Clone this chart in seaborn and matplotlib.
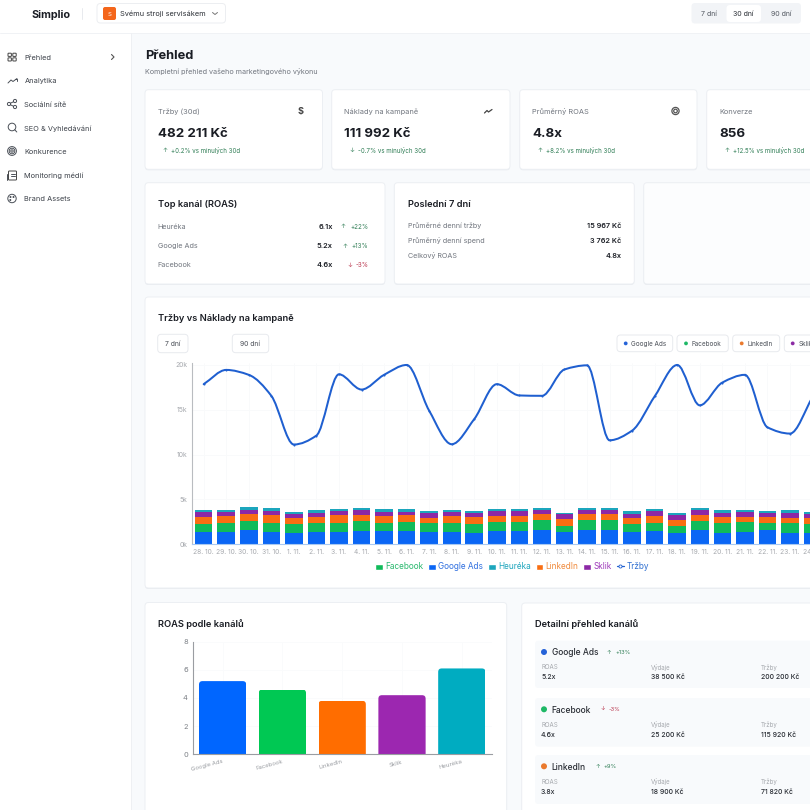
import numpy as np
import matplotlib
matplotlib.use("Agg")
import matplotlib.pyplot as plt
from matplotlib.patches import FancyBboxPatch, Rectangle, Circle, Patch, PathPatch
from matplotlib.path import Path
from matplotlib.lines import Line2D
from matplotlib.transforms import IdentityTransform
import seaborn as sns

# ---- data ----
days = ["28. 10.", "29. 10.", "30. 10.", "31. 10.", "1. 11.", "2. 11.", "3. 11.", "4. 11.", "5. 11.", "6. 11.",
        "7. 11.", "8. 11.", "9. 11.", "10. 11.", "11. 11.", "12. 11.", "13. 11.", "14. 11.", "15. 11.", "16. 11.",
        "17. 11.", "18. 11.", "19. 11.", "20. 11.", "21. 11.", "22. 11.", "23. 11.", "24. 11."]
revenue = [17860, 19450, 18900, 16560, 11130, 12130, 18960, 17260, 18900, 20000, 14900, 11160, 13970, 17860,
           16600, 16560, 19500, 19960, 11600, 12680, 16500, 20000, 15500, 18040, 18900, 13050, 12350, 16400]
google = [1417, 1417, 1604, 1343, 1306, 1380, 1343, 1492, 1492, 1529, 1380, 1417, 1306, 1529, 1492, 1604, 1343, 1604,
          1567, 1417, 1492, 1306, 1604, 1306, 1380, 1604, 1306, 1231]
facebook = [895, 1007, 1044, 1082, 1007, 970, 1082, 1082, 933, 933, 970, 1007, 1007, 933, 970, 1119, 746, 1082,
            1156, 858, 933, 783, 1007, 1044, 1082, 783, 1044, 1044]
linkedin = [746, 746, 746, 821, 634, 709, 858, 746, 783, 783, 634, 746, 709, 709, 746, 672, 709, 746,
            634, 709, 746, 672, 709, 672, 597, 634, 597, 672]
sklik = [522, 448, 448, 522, 448, 485, 448, 560, 448, 410, 522, 448, 448, 522, 485, 448, 560, 448,
         485, 448, 522, 485, 522, 522, 522, 448, 522, 448]
heureka = [224, 261, 298, 261, 224, 336, 224, 149, 261, 298, 261, 224, 298, 224, 261, 224, 149, 224,
           187, 298, 224, 224, 224, 336, 298, 261, 336, 224]
roas_channels = ["Google Ads", "Facebook", "LinkedIn", "Sklik", "Heuréka"]
roas_values = [5.2, 4.6, 3.8, 4.2, 6.1]
nav_items = ["Přehled", "Analytika", "Sociální sítě", "SEO & Vyhledávání", "Konkurence", "Monitoring médií", "Brand Assets"]

BLUE, GREEN, ORANGE, PURPLE, TEAL = "#0a66f5", "#10bb5a", "#f96e12", "#8c28a6", "#1ca6bd"
R_COLORS = ["#0066ff", "#00c853", "#ff6d00", "#9c27b0", "#00acc1"]
LINE = "#1f5fd0"
INK, GREY, LGREY = "#1a1d24", "#71767f", "#a6a9ae"
UP, DOWN = "#2f7d55", "#b8324a"

sns.set_theme(style="white")
plt.rcParams["font.family"] = ["Inter", "DejaVu Sans"]
fig = plt.figure(figsize=(8.1, 8.1), dpi=100, facecolor="white")
bg = fig.add_axes([0, 0, 1, 1], zorder=0)
bg.set_xlim(0, 810); bg.set_ylim(810, 0); bg.axis("off")


def T(x, y, s, px=7.5, c=INK, w="normal", ha="left", **k):
    return bg.text(x, y + 0.1 * px, s, fontsize=px * 0.72, color=c, fontweight=w, ha=ha, va="center", **k)


def box(x0, y0, x1, y1, fc="white", ec="#eceff3", r=3.5, lw=0.7, z=1):
    p = FancyBboxPatch((x0, y0), x1 - x0, y1 - y0, boxstyle=f"round,pad=0,rounding_size={r}",
                       fc=fc, ec=ec, lw=lw, zorder=z)
    bg.add_patch(p)
    return p


def card(x0, y0, x1, y1, fc="white"):
    box(x0, y0 + 1, x1, y1 + 1, fc="#e9ecf0", ec="none", z=0.9)
    box(x0, y0, x1, y1, fc=fc)


def poly(xs, ys, c="#4a4f57", lw=0.7):
    bg.plot(xs, ys, color=c, lw=lw, zorder=3, solid_capstyle="round")


def ring(x, y, r, c="#4a4f57", lw=0.7, fill="none"):
    bg.add_patch(Circle((x, y), r, fc=fill, ec=c, lw=lw, zorder=3))


# ---- page chrome ----
bg.add_patch(Rectangle((131, 33), 700, 800, fc="#f8fafc", ec="none", zorder=0.1))
poly([0, 810], [33, 33], "#f0f2f5", 0.7)
poly([131, 131], [33, 810], "#eef0f3", 0.7)
T(31, 13.5, "Simplio", 10.8, w="bold")
poly([82, 82], [8, 19], "#e8eaee", 0.7)
box(97, 3.5, 225.5, 23, ec="#eceef1")
box(103, 7, 116, 20, fc="#f4661b", ec="none", r=2)
T(109.5, 13.5, "S", 6, "white", ha="center")
T(120.5, 13.5, "Svému stroji servisákem", 7.4, "#2a2e35")
poly([212.5, 215, 217.5], [12.5, 14.5, 12.5], "#777")
box(691.5, 3, 801, 23.5, fc="#f2f4f7", ec="none")
box(726.5, 5, 761, 22, ec="none")
T(709, 13.2, "7 dní", 7, "#555a63", ha="center")
T(743.7, 13.2, "30 dní", 7, "#2a2e35", ha="center")
T(781, 13.2, "90 dní", 7, "#555a63", ha="center")

nav_y = [57, 80.3, 104, 127.7, 151, 175, 198.5]
for s, y in zip(nav_items, nav_y):
    T(24.5, y, s, 7.4, "#3c4149")
poly([111.5, 114, 111.5], [54.5, 57, 59.5], "#555", 0.8)
for dx, dy in [(-4, -3.8), (0.8, -3.8), (-4, 0.8), (0.8, 0.8)]:
    box(8 + 4 + dx, 57 + dy, 8 + 4 + dx + 3.4, 57 + dy + 3.2, fc="none", ec="#444", r=0.6, z=3)
poly([8, 11, 13, 17], [83, 80, 81.5, 78.5])
poly([14.5, 17, 17], [78.5, 78.5, 80.5])
for (a, b) in [(9, 104), (15, 101), (15, 107)]:
    ring(a, b, 1.6)
poly([10.5, 13.6], [103.2, 101.7]); poly([10.5, 13.6], [104.8, 106.3])
ring(12, 127, 3.8); poly([14.8, 16.8], [129.8, 132])
ring(12, 151, 4.4); ring(12, 151, 2.8); ring(12, 151, 1.2)
box(8.5, 171, 16.5, 180, fc="none", ec="#444", r=0.8, z=3)
poly([10.5, 14.5], [173.5, 173.5]); poly([10.5, 14.5], [176, 176]); poly([7.2, 7.2], [174, 179.5])
ring(12, 198.5, 4.2); ring(10.5, 197, 0.5); ring(13.5, 197, 0.5); ring(10.3, 200, 0.5)

T(145, 54.5, "Přehled", 12.9, w="bold")
T(145, 71, "Kompletní přehled vašeho marketingového výkonu", 7.2, GREY)

# ---- KPI cards ----
kpis = [(145, 322.5, "Tržby (30d)", "482 211 Kč", "↑", "+0.2% vs minulých 30d"),
        (331.7, 510, "Náklady na kampaně", "111 992 Kč", "↓", "-0.7% vs minulých 30d"),
        (519.7, 697, "Průměrný ROAS", "4.8x", "↑", "+8.2% vs minulých 30d"),
        (706.7, 900, "Konverze", "856", "↑", "+12.5% vs minulých 30d")]
for x0, x1, lab, val, arr, d in kpis:
    card(x0, 89.7, x1, 169.3)
    T(x0 + 12.8, 111, lab, 7.4, GREY)
    T(x0 + 12.8, 132.5, val, 13.3, w="bold")
    T(x0 + 20, 149.5, arr, 6, UP, ha="center")
    T(x0 + 26, 149.5, d, 6.15, UP)
T(301, 111, "$", 9, "#444", w="bold", ha="center")
poly([484.5, 487, 488.5, 492], [113, 110.5, 112, 109.5], "#444", 0.9)
ring(675.5, 111, 3.6, "#555", 0.9); ring(675.5, 111, 1.8, "#555", 0.9)

# ---- second row ----
card(145, 182.7, 385, 284)
T(157.7, 203.5, "Top kanál (ROAS)", 9.3, w="semibold")
top_rows = [(226, "Heuréka", "6.1x", "+22%", 343, 350.7, UP, "↑"),
            (245.5, "Google Ads", "5.2x", "+13%", 345, 351.7, UP, "↑"),
            (264.7, "Facebook", "4.6x", "-3%", 349.8, 356, DOWN, "↓")]
for y, n, v, d, ax_, tx, c, a in top_rows:
    T(157.7, y, n, 7.2, GREY)
    T(332.7, y, v, 7.4, w="semibold", ha="right")
    T(ax_, y, a, 6, c, ha="center")
    T(tx, y, d, 6.2, c)
card(394.3, 182.7, 634.3, 284)
T(407.7, 203.5, "Poslední 7 dní", 9.3, w="semibold")
for y, n, v in [(225, "Průměrné denní tržby", "15 967 Kč"), (240, "Průměrný denní spend", "3 762 Kč"), (255, "Celkový ROAS", "4.8x")]:
    T(407.7, y, n, 7.2, GREY)
    T(621.3, y, v, 7.3, w="semibold", ha="right")
card(643.7, 182.7, 900, 284, fc="#fcfdfe")

# ---- main chart card ----
card(145, 297, 900, 588)
T(157.7, 318, "Tržby vs Náklady na kampaně", 9.3, w="semibold")
for x0, x1, s in [(157.7, 188, "7 dní"), (232.3, 268.7, "90 dní")]:
    box(x0, 334.3, x1, 352.7, ec="#e8eaee")
    T((x0 + x1) / 2, 343.5, s, 6.8, "#4a4f57", ha="center")
for x0, x1, dot, s, c in [(617, 672.7, 625.7, "Google Ads", "#2563d8"), (677, 728.3, 686, "Facebook", "#1eb866"),
                          (732.7, 779.7, 741.7, "LinkedIn", "#ea7a2e"), (784.3, 850, 792.7, "Sklik", "#8c2aa4")]:
    box(x0, 335, x1, 351.7, ec="#e8eaee")
    bg.add_patch(Circle((dot, 343.4), 1.9, fc=c, ec="none", zorder=3))
    T(dot + 5.6, 343.4, s, 6.4, "#4a4f57")


def px_axes(x0, y0, x1, y1):
    a = fig.add_axes([x0 / 810, 1 - y1 / 810, (x1 - x0) / 810, (y1 - y0) / 810], zorder=2)
    a.patch.set_alpha(0)
    return a


ax = px_axes(192.4, 363, 868.9, 544.3)
n = len(days)
bottom = np.zeros(n)
for vals, col in zip([google, facebook, linkedin, sklik, heureka], [BLUE, GREEN, ORANGE, PURPLE, TEAL]):
    sns.barplot(x=days, y=vals, bottom=bottom, color=col, saturation=1, width=0.78, ax=ax, zorder=2, linewidth=0)
    bottom = bottom + np.array(vals)

# smooth revenue curve through the read values
xs = np.arange(n, dtype=float)
ys = np.array(revenue, dtype=float)
d = np.diff(ys)
m = np.zeros(n)
for i in range(1, n - 1):
    if d[i - 1] * d[i] > 0:
        m[i] = 2 * d[i - 1] * d[i] / (d[i - 1] + d[i])
m[0], m[-1] = d[0], d[-1]
verts = [(xs[0], ys[0])]
codes = [Path.MOVETO]
for i in range(n - 1):
    verts += [(xs[i] + 1 / 3, ys[i] + m[i] / 3), (xs[i + 1] - 1 / 3, ys[i + 1] - m[i + 1] / 3), (xs[i + 1], ys[i + 1])]
    codes += [Path.CURVE4] * 3
ax.add_patch(PathPatch(Path(verts, codes), fc="none", ec=LINE, lw=1.45, zorder=4, capstyle="round"))
sns.lineplot(x=xs, y=ys, linestyle="", marker="o", markersize=1.5, markeredgewidth=0, color=LINE, ax=ax, zorder=5,
             errorbar=None)

ax.set_xlim(-0.5, 29.5)
ax.set_ylim(0, 20220)
ax.set_xticks(range(n)); ax.set_xticklabels(days)
ax.set_yticks([0, 5000, 10000, 15000, 20000]); ax.set_yticklabels(["0k", "5k", "10k", "15k", "20k"])
ax.set_xlabel(""); ax.set_ylabel("")
ax.grid(True, color="#f9fafb", lw=0.6, zorder=0)
ax.set_axisbelow(True)
for sp in ["top", "right"]:
    ax.spines[sp].set_visible(False)
ax.spines["left"].set_color("#b9bcc0"); ax.spines["left"].set_linewidth(0.8)
ax.spines["bottom"].set_color("#a9c9f2"); ax.spines["bottom"].set_linewidth(0.8)
ax.tick_params(axis="y", length=2.5, width=0.6, color="#b9bcc0", labelsize=4.9, labelcolor=LGREY, pad=1)
ax.tick_params(axis="x", length=0, labelsize=4.8, labelcolor=LGREY, pad=3.5)

handles = [Patch(fc=GREEN, label="Facebook"), Patch(fc=BLUE, label="Google Ads"), Patch(fc=TEAL, label="Heuréka"),
           Patch(fc=ORANGE, label="LinkedIn"), Patch(fc=PURPLE, label="Sklik"),
           Line2D([], [], color=LINE, lw=0.9, marker="o", ms=2.2, mfc="white", mew=0.6, label="Tržby")]
leg = ax.legend(handles=handles, ncol=6, loc="center", bbox_to_anchor=(512 / 810, 1 - 566.9 / 810),
                bbox_transform=fig.transFigure, frameon=False, fontsize=5.9, handlelength=0.95, handleheight=0.75,
                handletextpad=0.25, columnspacing=0.62, borderpad=0, borderaxespad=0)
for t, c in zip(leg.get_texts(), ["#28b86d", "#2f6fe0", "#1ea5bd", "#f08a3c", "#a03cbb", "#2f6fd0"]):
    t.set_color(c)

# ---- ROAS card ----
card(145, 602.5, 506.7, 900)
T(157.7, 622.7, "ROAS podle kanálů", 9.3, w="semibold")
ax2 = px_axes(192.7, 641.7, 491.7, 754.3)
sns.barplot(x=roas_channels, y=roas_values, hue=roas_channels, palette=R_COLORS, saturation=1, width=0.79, ax=ax2,
            legend=False, linewidth=0, zorder=2)
ax2.set_ylim(0, 8)
ax2.set_xlim(-0.5, 4.5)
ax2.set_xlabel(""); ax2.set_ylabel("")
ax2.set_yticks([0, 2, 4, 6, 8])
ax2.set_xticks(range(5)); ax2.set_xticklabels(roas_channels)
ax2.grid(True, color="#fafbfc", lw=0.6)
ax2.set_axisbelow(True)
for sp in ["top", "right"]:
    ax2.spines[sp].set_visible(False)
for sp in ["left", "bottom"]:
    ax2.spines[sp].set_color("#9a9da2"); ax2.spines[sp].set_linewidth(0.8)
ax2.tick_params(axis="y", length=2.5, width=0.6, color="#9a9da2", labelsize=5.4, labelcolor="#7d8187", pad=1)
ax2.tick_params(axis="x", length=2, width=0.6, color="#9a9da2", labelsize=4.3, labelcolor="#9a9da2", pad=1.5)
for lab in ax2.get_xticklabels():
    lab.set_rotation(15); lab.set_ha("right"); lab.set_rotation_mode("anchor")
fig.canvas.draw()
for bar in ax2.patches:
    (a0, b0), (a1, b1) = ax2.transData.transform([(bar.get_x(), 0), (bar.get_x() + bar.get_width(), bar.get_height())])
    clip = FancyBboxPatch((a0, b0 - 8), a1 - a0, b1 - b0 + 8, boxstyle="round,pad=0,rounding_size=3.5",
                          transform=IdentityTransform())
    bar.set_clip_path(clip)

# ---- detail card ----
card(521.7, 603, 900, 900)
T(535, 623, "Detailní přehled kanálů", 9.3, w="semibold")
rows = [(640.7, 688, "Google Ads", "#2563d8", "↑", "+13%", 609, 615, UP, "5.2x", "38 500 Kč", "200 200 Kč"),
        (698, 746.7, "Facebook", "#1eb866", "↓", "-3%", 602.7, 608.7, DOWN, "4.6x", "25 200 Kč", "115 920 Kč"),
        (755, 804, "LinkedIn", "#ea7a2e", "↑", "+9%", 597.3, 603.3, UP, "3.8x", "18 900 Kč", "71 820 Kč")]
for y0, y1, name, col, arr, dl, ax_, tx, dc, ro, sp, tr in rows:
    box(535, y0, 900, y1, fc="#f8fafc", ec="none", z=1.5)
    ny = y0 + 11.3
    bg.add_patch(Circle((544, ny), 3, fc=col, ec="none", zorder=3))
    T(551.7, ny, name, 8.4, "#2a2e35", w="medium")
    T(ax_, ny, arr, 5.5, dc, ha="center")
    T(tx, ny, dl, 5.8, dc)
    for x, lab, v in [(541, "ROAS", ro), (651, "Výdaje", sp), (761, "Tržby", tr)]:
        T(x, y0 + 26, lab, 6.1, LGREY)
        T(x, y0 + 36, v, 6.9, "#2a2e35", w="medium")

fig.savefig("out.png", dpi=100)
